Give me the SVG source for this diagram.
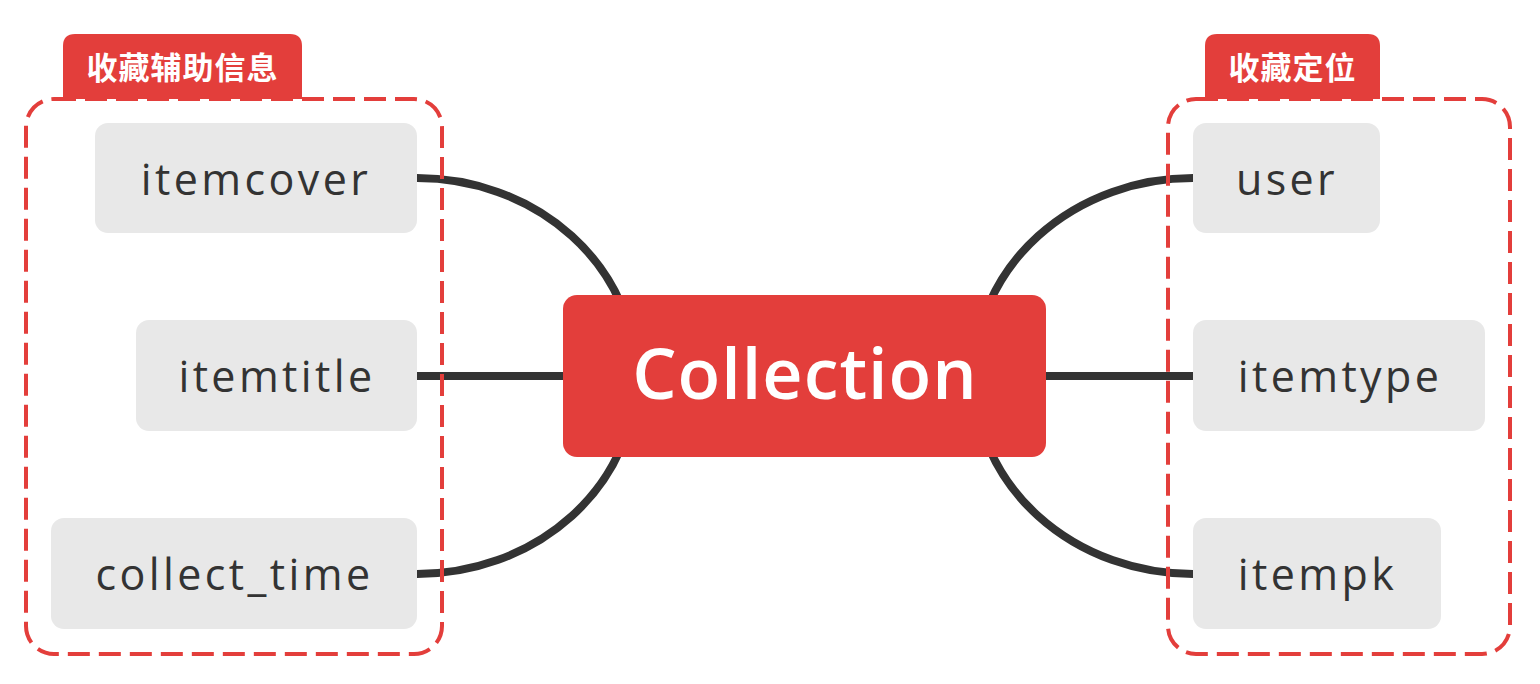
<svg xmlns="http://www.w3.org/2000/svg" width="1540" height="684" viewBox="0 0 1540 684">
<style>
.conn{fill:none;stroke:#333333;stroke-width:8}
.bound{fill:none;stroke:#e33e3b;stroke-width:4;stroke-dasharray:22 9}
.tab{fill:#e33e3b}
.tabtxt{fill:#ffffff;font-family:"Noto Sans CJK SC",sans-serif;font-weight:700;font-size:31px;letter-spacing:1px;text-anchor:middle}
.node{fill:#e8e8e8}
.ntxt{fill:#333333;font-family:"Open Sans",sans-serif;font-size:43px;letter-spacing:3.4px;text-anchor:middle;font-variant-ligatures:none}
.center{fill:#e33e3b}
.ctxt{fill:#ffffff;font-family:"Open Sans",sans-serif;font-size:70px;font-weight:600;letter-spacing:1px;text-anchor:middle;font-variant-ligatures:none}
</style>
<rect width="1540" height="684" fill="#ffffff"/>
<g id="connectors">
<path class="conn" d="M417,178 A219,198 0 0 1 636,376"/>
<path class="conn" d="M417,376 L640,376"/>
<path class="conn" d="M417,574 A219,198 0 0 0 636,376"/>
<path class="conn" d="M1193,178 A219,198 0 0 0 974,376"/>
<path class="conn" d="M1193,376 L970,376"/>
<path class="conn" d="M1193,574 A219,198 0 0 1 974,376"/>
</g>
<g id="boundary-left">
<path class="tab" d="M63,99 L63,46 Q63,34 75,34 L290,34 Q302,34 302,46 L302,99 Z"/>
<rect class="bound" x="26" y="99" width="416" height="555" rx="28"/>
<text class="tabtxt" x="182.5" y="79">收藏辅助信息</text>
</g>
<g id="boundary-right">
<path class="tab" d="M1205,99 L1205,46 Q1205,34 1217,34 L1368,34 Q1380,34 1380,46 L1380,99 Z"/>
<rect class="bound" x="1168" y="99" width="342" height="555" rx="28"/>
<text class="tabtxt" x="1292.5" y="79">收藏定位</text>
</g>
<g id="node-center">
<rect class="center" x="563" y="295" width="483" height="162" rx="14"/>
<text class="ctxt" x="805" y="399">Collection</text>
</g>
<g id="node-itemcover">
<rect class="node" x="95" y="123" width="322" height="110" rx="13"/>
<text class="ntxt" x="256" y="195">itemcover</text>
</g>
<g id="node-itemtitle">
<rect class="node" x="136" y="320" width="281" height="111" rx="13"/>
<text class="ntxt" x="277" y="392">itemtitle</text>
</g>
<g id="node-collect_time">
<rect class="node" x="51" y="518" width="366" height="111" rx="13"/>
<text class="ntxt" x="234.5" y="590">collect_time</text>
</g>
<g id="node-user">
<rect class="node" x="1193" y="123" width="187" height="110" rx="13"/>
<text class="ntxt" x="1287" y="195">user</text>
</g>
<g id="node-itemtype">
<rect class="node" x="1193" y="320" width="292" height="111" rx="13"/>
<text class="ntxt" x="1340" y="392">itemtype</text>
</g>
<g id="node-itempk">
<rect class="node" x="1193" y="518" width="248" height="111" rx="13"/>
<text class="ntxt" x="1317.5" y="590">itempk</text>
</g>
</svg>
